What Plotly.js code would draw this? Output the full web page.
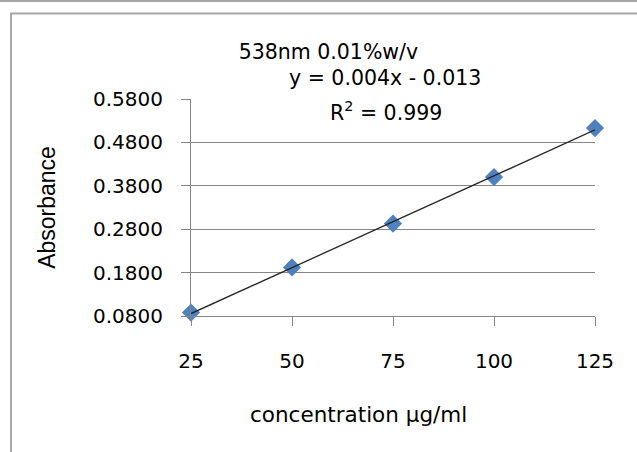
<!DOCTYPE html>
<html>
<head>
<meta charset="utf-8">
<script src="https://cdn.plot.ly/plotly-3.0.1.min.js"></script>
<style>
html, body { margin: 0; padding: 0; background: #ffffff; }
#chart { width: 637px; height: 452px; }
</style>
</head>
<body>
<div id="chart"></div>
<script>
// ---- data ----
const concentration = [25, 50, 75, 100, 125];          // µg/ml
const absorbance = [0.088, 0.192, 0.293, 0.400, 0.513];
const xTickVals = [25, 50, 75, 100, 125];
const yTickVals = [0.08, 0.18, 0.28, 0.38, 0.48, 0.58];
const yTickText = ['0.0800', '0.1800', '0.2800', '0.3800', '0.4800', '0.5800'];
const chartTitle = '538nm 0.01%w/v';
const equationText = 'y = 0.004x - 0.013';
const r2Text = 'R<sup>2</sup> = 0.999';
const xTitle = 'concentration µg/ml';
const yTitle = 'Absorbance';

// ---- linear least-squares trendline computed from the data ----
const n = concentration.length;
const mx = concentration.reduce((a, b) => a + b, 0) / n;
const my = absorbance.reduce((a, b) => a + b, 0) / n;
let sxy = 0, sxx = 0;
for (let i = 0; i < n; i++) {
  sxy += (concentration[i] - mx) * (absorbance[i] - my);
  sxx += (concentration[i] - mx) * (concentration[i] - mx);
}
const slope = sxy / sxx;
const intercept = my - slope * mx;
const trendX = [Math.min(...concentration), Math.max(...concentration)];
const trendY = trendX.map(x => intercept + slope * x);

// ---- layout geometry (pixels) ----
const W = 637, H = 452;
const M = { l: 191, r: 42, t: 99, b: 136 };
const PW = W - M.l - M.r, PH = H - M.t - M.b;
const px2paperX = px => (px - M.l) / PW;
const py2paperY = py => (H - M.b - py) / PH;

const calibri = 'DejaVu Sans, Liberation Sans, sans-serif';
const frameColor = '#a6a6a6';
const axisGray = '#868686';

const traces = [
  {
    x: concentration, y: absorbance,
    type: 'scatter', mode: 'markers',
    marker: { symbol: 'diamond', size: 14, color: '#4F81BD', line: { width: 0 } },
    cliponaxis: false,
    hoverinfo: 'skip', showlegend: false
  },
  {
    x: trendX, y: trendY,
    type: 'scatter', mode: 'lines',
    line: { color: '#222222', width: 1.3 },
    cliponaxis: false,
    hoverinfo: 'skip', showlegend: false
  }
];

const layout = {
  width: W, height: H,
  margin: M,
  paper_bgcolor: '#ffffff',
  plot_bgcolor: '#ffffff',
  showlegend: false,
  title: {
    text: chartTitle,
    font: { family: calibri, size: 20.5, color: '#000000' },
    xref: 'container', yref: 'container',
    x: 328.4 / W, xanchor: 'center',
    y: 1 - 51.7 / H, yanchor: 'middle'
  },
  xaxis: {
    range: [25, 125],
    tickmode: 'array', tickvals: xTickVals,
    showgrid: false, zeroline: false,
    showline: true, linecolor: axisGray, linewidth: 1,
    ticks: 'outside', ticklen: 9, tickwidth: 1, tickcolor: axisGray,
    ticklabelstandoff: 18,
    tickfont: { family: calibri, size: 20, color: '#000000' },
    fixedrange: true
  },
  yaxis: {
    range: [0.08, 0.58],
    tickmode: 'array', tickvals: yTickVals, ticktext: yTickText,
    showgrid: true, gridcolor: axisGray, gridwidth: 1,
    zeroline: false,
    showline: true, linecolor: axisGray, linewidth: 1,
    ticks: 'outside', ticklen: 9, tickwidth: 1, tickcolor: axisGray,
    ticklabelstandoff: 14,
    tickfont: { family: calibri, size: 20, color: '#000000' },
    title: {
      text: yTitle,
      font: { family: 'Liberation Sans, Arial, sans-serif', size: 23, color: '#000000' },
      standoff: 30
    },
    fixedrange: true
  },
  annotations: [
    {
      text: equationText, showarrow: false,
      xref: 'paper', yref: 'paper',
      x: px2paperX(384.7), y: py2paperY(78.3),
      xanchor: 'center', yanchor: 'middle',
      font: { family: calibri, size: 20.5, color: '#000000' }
    },
    {
      text: r2Text, showarrow: false,
      xref: 'paper', yref: 'paper',
      x: px2paperX(385.9), y: py2paperY(111),
      xanchor: 'center', yanchor: 'middle',
      font: { family: calibri, size: 20.5, color: '#000000' }
    },
    {
      text: xTitle, showarrow: false,
      xref: 'paper', yref: 'paper',
      x: px2paperX(358.6), y: py2paperY(414),
      xanchor: 'center', yanchor: 'middle',
      font: { family: calibri, size: 21.5, color: '#000000' }
    }
  ],
  shapes: [
    {
      type: 'line', xref: 'paper', yref: 'paper', layer: 'above',
      x0: px2paperX(-5), x1: px2paperX(W + 5),
      y0: py2paperY(1), y1: py2paperY(1),
      line: { color: frameColor, width: 2 }
    },
    {
      type: 'rect', xref: 'paper', yref: 'paper', layer: 'above',
      x0: px2paperX(11), x1: px2paperX(W + 10),
      y0: py2paperY(13.5), y1: py2paperY(H + 10),
      line: { color: frameColor, width: 2 }
    }
  ]
};

Plotly.newPlot('chart', traces, layout, { staticPlot: true, displayModeBar: false });
</script>
</body>
</html>
